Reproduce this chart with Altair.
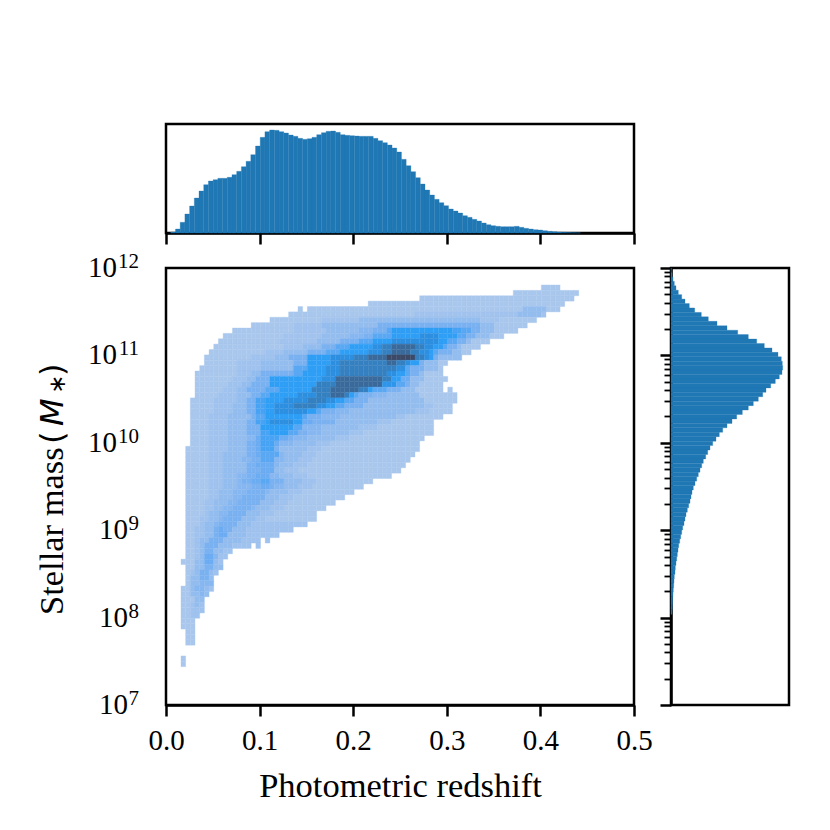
import altair as alt
import pandas as pd

SERIF = "Liberation Serif"

# top histogram: bar heights
top_counts = [1, 4, 10.7, 19, 27, 35, 42, 48.3, 52, 53.3, 54.7, 54.7, 55.7, 58.3, 61.7, 66.3, 71.7,
              78.3, 87, 95.7, 101.3, 103, 102.7, 101.3, 100, 98, 96.7, 94.7, 93.7, 94.3, 95.7, 98.3,
              100.3, 101.7, 102, 100.7, 98.3, 97.7, 97.3, 97, 96.7, 96.7, 96.7, 94.7, 92.3, 90.3, 88,
              85, 81, 73.7, 67.3, 61.3, 55.3, 49, 43, 38, 33.7, 30.3, 27.3, 24, 22, 20, 17.3, 15.7,
              13.7, 12, 10, 8.3, 7.3, 6.7, 6.3, 6.3, 6.3, 6.7, 5.7, 4.7, 4, 3.3, 3, 2.3, 1.7, 1.3,
              1, 0.7, 0.5, 0.3, 0.2]
top_start, top_step = 0.0051, 0.00503

# right histogram: bar lengths from the top row downwards
right_counts = [0.3, 1, 2, 3.3, 5, 7.3, 10.7, 14, 18.3, 23.7, 30.3, 37.3, 46, 56, 66.7, 77.3, 85.7,
                93.3, 101, 107, 110.3, 111.3, 111.7, 111, 108.3, 104.3, 99.7, 95, 91.7, 87.3, 82.3,
                77.3, 71.3, 65.7, 61, 56, 51.7, 48.3, 45, 41.7, 39, 36.7, 34.7, 32.3, 30.7, 29, 27.3,
                25.7, 24, 22.3, 21, 20, 19, 17.7, 16.3, 15, 14, 13, 11.7, 10.7, 9.7, 8.7, 7.7, 7,
                6.3, 5.7, 5, 4.3, 4, 3.3, 3, 2.7, 2.3, 2, 1.7, 1.5, 1.3, 1]
right_top, right_step = 12.0, 0.0508

# 2d histogram: for each row (top to bottom) first and last filled column
row_first = [77, 71, 51, 40, 27, 23, 19, 15, 11, 9, 8, 7, 6, 5, 5, 4, 3, 3, 3, 3, 3, 2, 2, 2, 2, 2, 2, 2, 2, 2,
             1, 1, 1, 1, 1, 1, 1, 1, 1, 1, 1, 1, 1, 1, 1, 1, 1, 1, 1, 1, 1, 1, 1, 1, 1, 1,
             0, 0, 0, 0, 0, 0, 0, 0, 1, 1, 1, None, None, 0, 0]
row_last = [80, 84, 83, 81, 80, 77, 75, 73, 71, 68, 65, 63, 61, 59, 56, 55, 55, 56, 55, 55, 58, 58, 57, 57, 55,
            53, 53, 53, 51, 50, 50, 49, 48, 47, 46, 44, 40, 38, 36, 34, 32, 30, 28, 28, 26, 23, 20, 16, 14,
            10, 9, 8, 8, 7, 6, 6, 6, 5, 4, 4, 4, 3, 2, 2, 2, 2, 2, None, None, 0, 0]
extra_cells = [(4, 25), (19, 57), (47, 18), (48, 16), (51, 0)]

# shade of each row as "from column: level" steps
row_levels = [
    "0:1", "0:1", "0:1", "0:1",
    "0:1 73:2 78:1",
    "0:1 50:1.4 72:2 77:1.4",
    "0:1 30:1.4 38:2 64:1.4 68:1",
    "0:1 24:1.4 30:2 42:3 64:2 67:1",
    "0:1 24:1.4 31:2 38:2.5 41:3 44:4 45:5 58:4.5 60:4 62:3 64:2 67:1",
    "0:1 22:1.4 30:2 36:2.5 39:3 41:4 45:5 51:6 55:5 59:4 61:3 63:2 66:1",
    "0:1 21:1.4 29:2 34:3 38:4 41:5 45:6 55:5 57:4 59:3 61:2 62:1",
    "0:1 22:1.5 26:2 30:3 33:4 36:5 41:6 43:7 45:8 50:7 52:6 54:5 56:4 57:3 59:2 60:1",
    "0:1 18:1.5 22:2 27:3 31:4 34:5 40:6 43:7 45:8 49:7 51:6 53:5 54:4 55:3 58:2 60:1",
    "0:1 15:1.5 20:2 23:3 27:5 32:6 37:7 40:8 44:9 50:7 52:6 53:5 54:3 55:2",
    "0:1 12:1.5 17:2 24:3 27:5 32:6 34:7 44:8 46:7 48:6 49:5 51:3 52:2 55:1",
    "0:1 12:1.5 17:2 24:4 27:5 31:6 34:7 46:6 48:4 49:3 52:2 55:1",
    "0:1 12:1.5 15:2 17:3 24:4 26:5 31:6 34:7 44:6 46:5 48:4 49:3 51:2 52:1",
    "0:1 11:1.5 14:2 16:3 19:5 30:6 33:8 43:7 45:5 47:3.5 49:2 52:1",
    "0:1 10:1.5 13:2 15:3 19:5 29:7 33:8 43:5.5 46:4 48:3 49:2 51:1",
    "0:1 9:1.5 12:2 14:3 18:4 21:5 28:7 32:8 38:7 40:5 41:4 44:3 47:2 50:1",
    "0:1 8:1.5 12:2 15:3 17:4 19:5 25:6 29:7 32:8 35:7 36:5 37:4 38:3 41:2.5 44:2 51:1",
    "0:1 7:1.5 12:2 14:3 16:4.5 18:5 22:6 27:7 31:6 33:5 35:4 37:3 40:2 52:1",
    "0:1 7:1.5 11:2 14:3 16:4.5 18:5 20:6 24:7 29:6 31:5 33:4 35:3 39:2 52:1.5 54:1",
    "0:1 7:1.5 11:2 14:3 16:4.5 18:5 20:6 27:5 29:4 30:3 33:2.5 36:2 50:1.5 53:1",
    "0:1 6:1.5 10:2 15:3 16:4 18:5 24:5 26:4 27:3 30:2.5 34:2 46:1.5 48:1",
    "0:1 6:1.5 10:2 14:3 16:4.5 18:5 19:6 24:5 26:3.5 28:3 33:2 42:1.5 45:1",
    "0:1 6:1.5 10:2 14:3 17:5 24:4 26:2.5 30:2 38:1.5 42:1",
    "0:1 6:1.5 10:2 14:3 17:4.5 19:5 23:4 25:3 27:2.5 30:2 36:1.5 39:1",
    "0:1 6:1.5 10:2 14:2.5 16:3.5 17:4.5 21:3.5 23:3 24:2.5 27:2 33:1.5 36:1",
    "0:1 6:1.5 10:2 14:3 16:3.5 17:4.5 20:3.5 21:2.5 24:2 29:1.5 32:1",
    "0:1 6:1.5 10:2 14:3 16:3.5 17:4.5 20:3 21:2 27:1.5 30:1",
    "0:1 6:1.5 9:2 14:3 16:3.5 17:4 21:2.5 22:2 26:1.5 29:1",
    "0:1 6:1.5 9:2 13:2.5 15:3 17:4 20:2.5 22:2 25:1.5 28:1",
    "0:1 6:1.5 9:2 14:3 16:3.5 20:2.5 21:2 24:1.5 27:1",
    "0:1 6:1.5 9:2 14:3 17:3.5 20:2 22:1.5 25:1",
    "0:1 6:1.5 9:2 12:2.5 14:3 16:3.5 19:2.5 21:2 24:1.5 27:1",
    "0:1 6:1.5 9:2 12:2.5 13:3 15:3.5 17:4 19:3 22:2 26:1.5 29:1",
    "0:1 6:1.5 9:2 12:2.5 15:3 17:3.5 19:3 20:2.5 22:2 25:1.5 28:1",
    "0:1 6:1.5 8:2 11:2.5 14:3 18:2.5 19:2 23:1.5 26:1",
    "0:1 6:1.5 8:2 11:2.5 13:3 18:2 21:1.5 24:1",
    "0:1 5:1.5 7:2 10:2.5 12:3 17:2 20:1.5 23:1",
    "0:1 5:1.5 7:2 9:2.5 11:3 15:2.5 16:2 19:1.5 22:1",
    "0:1 5:1.5 6:2 8:2.5 10:3 14:2 17:1.5 20:1",
    "0:1 4:1.5 6:2 8:2.5 9:3 13:2 16:1.5 18:1",
    "0:1 4:1.5 5:2 7:2.5 8:3 12:2 15:1.5",
    "0:1 3:1.5 5:2 7:3 8:3.5 9:3 11:2 14:1.5",
    "0:1 3:1.5 5:2 7:3 8:3.5 10:2 14:1.5",
    "0:1 3:1.5 4:2 6:3 9:2 13:1.5",
    "0:1 3:1.5 4:2 5:3 8:2 11:1.5",
    "0:1 3:1.5 4:2 5:3 7:2 9:1.5",
    "0:1 3:1.5 4:2 5:3.5 7:2.5 8:1.5",
    "0:1 3:2 5:3.5 7:2 8:1.5",
    "0:1 3:2 5:3 7:2",
    "0:1 2:1.5 3:2 4:3 6:2 7:1.5",
    "0:1 2:2 4:3 6:2",
    "0:1 2:2 4:2.5",
    "0:1 2:2 3:2.5 5:2 6:1.5",
    "0:1 2:2 4:2.5 5:2",
    "0:1 3:2",
    "0:1 2:1.5 3:2 4:1.5",
    "0:1 2:1.5", "0:1 2:1.5", "0:1", "0:1", "0:1", "0:1", "0:1", "0:1", "0:1", "0:1", "0:1",
]
col_start, col_step = 0.016, 0.005
row_top, row_step = 11.8055, 0.06151
level_colors = ["#a9c7ed", "#94bdef", "#7ab1f1", "#5aa8f3", "#2f9ef5",
                "#2d8fe0", "#3480c0", "#3a6a9c", "#3c4a68"]

x_ticks = [0.0, 0.1, 0.2, 0.3, 0.4, 0.5]
decades = [7, 8, 9, 10, 11, 12]
y_ticks = [m * 10.0 ** d for d in decades[:-1] for m in range(1, 10)] + [1e12]


def level_at(steps, col):
    level = 1
    for step in steps.split():
        start, value = step.split(":")
        if col >= int(start):
            level = float(value)
    return level


cells = []
for r, steps in enumerate(row_levels):
    cols = []
    if row_first[r] is not None:
        cols = list(range(row_first[r], row_last[r] + 1))
    cols += [c for rr, c in extra_cells if rr == r]
    for c in cols:
        cells.append({
            "z0": col_start + c * col_step,
            "z1": col_start + (c + 1) * col_step,
            "m0": 10 ** (row_top - (r + 1) * row_step),
            "m1": 10 ** (row_top - r * row_step),
            "level": level_at(steps, c),
        })
cells = pd.DataFrame(cells)

top_df = pd.DataFrame({
    "z0": [top_start + i * top_step for i in range(len(top_counts))],
    "z1": [top_start + (i + 1) * top_step for i in range(len(top_counts))],
    "count": top_counts,
})
right_df = pd.DataFrame({
    "m0": [10 ** (right_top - (i + 1) * right_step) for i in range(len(right_counts))],
    "m1": [10 ** (right_top - i * right_step) for i in range(len(right_counts))],
    "count": right_counts,
})

x_scale = alt.Scale(domain=[0, 0.5], nice=False)
y_scale = alt.Scale(type="log", domain=[1e7, 1e12], nice=False)
level_scale = alt.Scale(domain=list(range(1, 10)), range=level_colors)
is_major = "abs(log(datum.value)/LN10 - round(log(datum.value)/LN10)) < 0.001"
y_tick_size = {"condition": {"test": is_major, "value": 11}, "value": 7}
y_tick_width = {"condition": {"test": is_major, "value": 2.5}, "value": 1.8}

# main panel
main_rect = alt.Chart(cells).mark_rect(strokeWidth=0.35).encode(
    x=alt.X("z0:Q", scale=x_scale, title="Photometric redshift",
            axis=alt.Axis(values=x_ticks, format=".1f", grid=False, tickSize=11, tickWidth=2.5,
                          labelFont=SERIF, labelFontSize=29, labelPadding=10, labelColor="black",
                          labelFlush=False, labelOverlap=False, domainWidth=2.5, domainColor="black",
                          tickColor="black", titleFont=SERIF, titleFontSize=34.5,
                          titleFontWeight="normal", titleColor="black", titlePadding=14)),
    x2="z1:Q",
    y=alt.Y("m0:Q", scale=y_scale, title=None,
            axis=alt.Axis(values=y_ticks, labels=False, grid=False, tickSize=y_tick_size,
                          tickWidth=y_tick_width, tickColor="black", domainWidth=2.5,
                          domainColor="black")),
    y2="m1:Q",
    color=alt.Color("level:Q", legend=None, scale=level_scale),
    stroke=alt.Stroke("level:Q", legend=None, scale=level_scale),
)

big = pd.DataFrame({"exp": [str(d) for d in decades if d >= 10], "m": [10.0 ** d for d in decades if d >= 10]})
small = pd.DataFrame({"exp": [str(d) for d in decades if d < 10], "m": [10.0 ** d for d in decades if d < 10]})


def tick_text(df, field, size, dx, dy):
    return alt.Chart(df).mark_text(font=SERIF, fontSize=size, align="right", baseline="alphabetic",
                                   dx=dx, dy=dy, color="black").encode(
        x=alt.value(0), y=alt.Y("m:Q", scale=y_scale, axis=None), text=field)


big10 = big.assign(base="10")
small10 = small.assign(base="10")
labels = [
    tick_text(big, "exp:N", 21, -27, 0),
    tick_text(big10, "base:N", 29, -49, 9),
    tick_text(small, "exp:N", 21, -27, 0),
    tick_text(small10, "base:N", 29, -38, 9),
]


def title_piece(text, x, y, font, size, style="normal"):
    return alt.Chart(pd.DataFrame({"t": [text]})).mark_text(
        font=font, fontSize=size, fontStyle=style, angle=270, align="left", baseline="alphabetic",
        color="black").encode(x=alt.value(x), y=alt.value(y), text="t:N")


title_parts = [
    title_piece("Stellar mass", -103, 347, SERIF, 34.5),
    title_piece("(", -103, 176, "DejaVu Sans", 32),
    title_piece("M", -103, 158, "DejaVu Sans", 32, "italic"),
    title_piece("\u2217", -101, 126, "DejaVu Sans", 23),
    title_piece(")", -103, 108, "DejaVu Sans", 32),
]

main = alt.layer(main_rect, *labels, *title_parts).properties(width=468, height=437)

# top panel
top = alt.Chart(top_df).mark_rect(color="#1f77b4", stroke="#1f77b4", strokeWidth=0.3).encode(
    x=alt.X("z0:Q", scale=x_scale, title=None,
            axis=alt.Axis(values=x_ticks, labels=False, grid=False, tickSize=11, tickWidth=2.5,
                          tickColor="black", domainWidth=2.5, domainColor="black")),
    x2="z1:Q",
    y=alt.Y("count:Q", scale=alt.Scale(domain=[0, 109], nice=False), axis=None),
    y2=alt.datum(0),
).properties(width=468, height=109)

# right panel
right = alt.Chart(right_df).mark_rect(color="#1f77b4", stroke="#1f77b4", strokeWidth=0.3).encode(
    y=alt.Y("m0:Q", scale=y_scale, title=None,
            axis=alt.Axis(values=y_ticks, labels=False, grid=False, tickSize=y_tick_size,
                          tickWidth=y_tick_width, tickColor="black", domainWidth=2.5,
                          domainColor="black")),
    y2="m1:Q",
    x=alt.X("count:Q", scale=alt.Scale(domain=[0, 118], nice=False), axis=None),
    x2=alt.datum(0),
).properties(width=118, height=437)

chart = alt.vconcat(
    top,
    alt.hconcat(main, right, spacing=3),
    spacing=2,
).properties(
    padding={"left": 25, "top": 114, "right": 5, "bottom": 5},
).configure_view(stroke="black", strokeWidth=2.5).configure_axis(labelFont=SERIF)

chart.save("out.html", embed_options={"renderer": "svg", "actions": False})
